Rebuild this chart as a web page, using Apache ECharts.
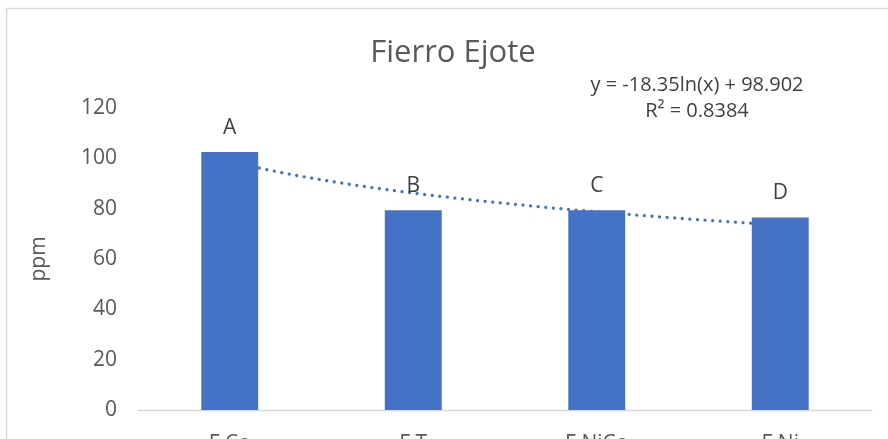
<!DOCTYPE html>
<html><head><meta charset="utf-8">
<script src="https://cdn.jsdelivr.net/npm/echarts@6/dist/echarts.min.js"></script>
<style>html,body{margin:0;padding:0;background:#fff}#c{width:888px;height:439px}</style>
</head><body><div id="c"></div>
<script>
// ---- data ----
const categories = ['F Co', 'F T', 'F NiCo', 'F Ni'];
const ironPpm = [102.5, 79.4, 79.4, 76.5];
const groupLetters = ['A', 'B', 'C', 'D'];
const yTickValues = [0, 20, 40, 60, 80, 100, 120];
// logarithmic trendline as printed on the chart
const trendSlope = -18.35;
const trendIntercept = 98.902;
const trendR2 = 0.8384;
const trendEquation = 'y = -18.35ln(x) + 98.902';
const trendR2Text = 'R² = 0.8384';

// curve of the printed equation, from category 1 to category 4
const trendPoints = [];
for (let i = 0; i <= 60; i++) {
  const x = 1 + i * 0.05;
  trendPoints.push([x, trendSlope * Math.log(x) + trendIntercept]);
}

const FONT = 'Open Sans';
const chart = echarts.init(document.getElementById('c'));
chart.setOption({
  animation: false,
  backgroundColor: '#ffffff',
  title: {
    text: 'Fierro Ejote',
    left: 453, top: 38, padding: 0, textAlign: 'center',
    textStyle: { fontFamily: FONT, fontSize: 31, fontWeight: 'normal', color: '#595959' }
  },
  grid: { left: 138, right: 16, top: 108, bottom: 29, containLabel: false, outerBoundsMode: 'none' },
  xAxis: [{
    type: 'category',
    data: categories,
    axisLine: { lineStyle: { color: '#d9d9d9', width: 1.3 } },
    axisTick: { show: false },
    axisLabel: { fontFamily: FONT, fontSize: 21, color: '#595959', margin: 24 },
    splitLine: { show: false }
  }, {
    type: 'value', min: 0.5, max: 4.5, show: false
  }],
  yAxis: {
    type: 'value',
    min: yTickValues[0], max: yTickValues[yTickValues.length - 1], interval: 20,
    name: 'ppm', nameLocation: 'middle', nameRotate: 90, nameGap: 88,
    nameTextStyle: { fontFamily: FONT, fontSize: 21, color: '#595959' },
    axisLine: { show: false },
    axisTick: { show: false },
    splitLine: { show: false },
    axisLabel: { fontFamily: FONT, fontSize: 21, color: '#595959', margin: 21 }
  },
  series: [{
    type: 'line',
    xAxisIndex: 1,
    data: trendPoints,
    showSymbol: false,
    smooth: false,
    z: 1,
    lineStyle: { color: '#4472C4', width: 3.3, type: [0.01, 7.6], cap: 'round' },
    silent: true
  }, {
    type: 'bar',
    xAxisIndex: 0,
    data: ironPpm,
    barWidth: '31%',
    z: 2,
    itemStyle: { color: '#4472C4' },
    label: {
      show: true, position: 'top', distance: 14,
      fontFamily: FONT, fontSize: 21, color: '#404040',
      formatter: p => groupLetters[p.dataIndex]
    }
  }],
  graphic: [{
    type: 'rect', silent: true,
    shape: { x: 6.5, y: 8.5, width: 1000, height: 1000 },
    style: { fill: 'none', stroke: '#d9d9d9', lineWidth: 1.5 }
  }, {
    type: 'text', x: 697, y: 85,
    style: { text: trendEquation, fontFamily: FONT, fontSize: 20, fill: '#404040', align: 'center', verticalAlign: 'middle' }
  }, {
    type: 'text', x: 697, y: 111,
    style: { text: trendR2Text, fontFamily: FONT, fontSize: 20, fill: '#404040', align: 'center', verticalAlign: 'middle' }
  }]
});
</script></body></html>
